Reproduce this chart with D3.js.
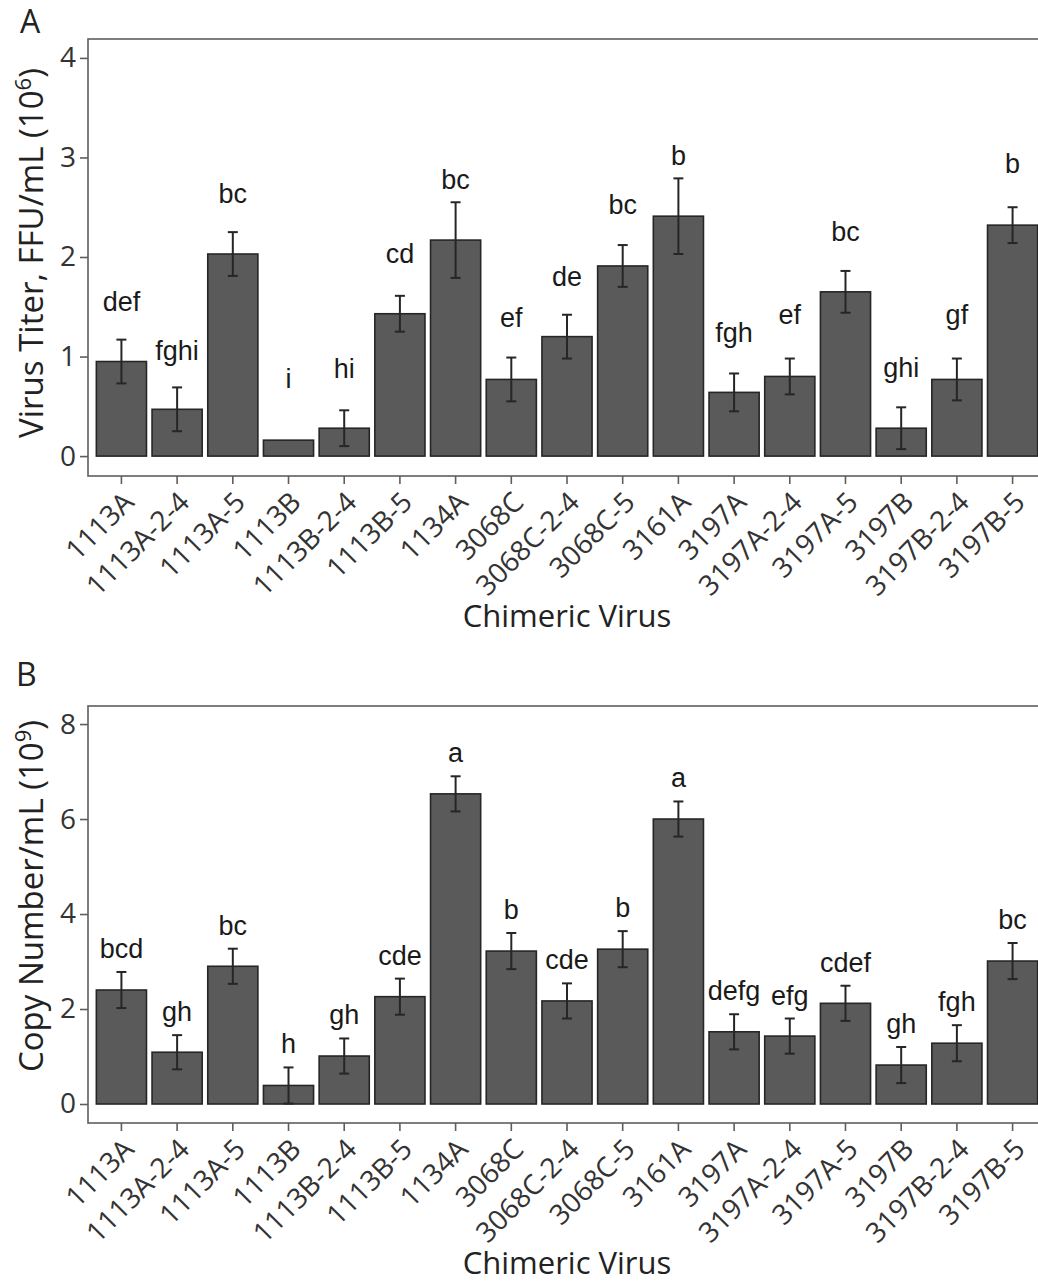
<!DOCTYPE html>
<html>
<head>
<meta charset="utf-8">
<script src="https://cdn.jsdelivr.net/npm/d3@7"></script>
<style>
  body { margin: 0; background: #fff; }
</style>
</head>
<body>
<svg id="chart" width="1038" height="1283"></svg>
<script>
// chimeric virus names (x categories, same for both panels)
var viruses = ["1113A", "1113A-2-4", "1113A-5", "1113B", "1113B-2-4", "1113B-5", "1134A",
    "3068C", "3068C-2-4", "3068C-5", "3161A", "3197A", "3197A-2-4", "3197A-5",
    "3197B", "3197B-2-4", "3197B-5"];

// panel A: virus titer, FFU/mL (10^6)
var titerMean = [0.95, 0.47, 2.03, 0.16, 0.28, 1.43, 2.17, 0.77, 1.20, 1.91, 2.41,
    0.64, 0.80, 1.65, 0.28, 0.77, 2.32];
var titerErr = [0.22, 0.22, 0.22, 0, 0.18, 0.18, 0.38, 0.22, 0.22, 0.21, 0.38,
    0.19, 0.18, 0.21, 0.21, 0.21, 0.18];
var titerLetters = ["def", "fghi", "bc", "i", "hi", "cd", "bc", "ef", "de", "bc", "b",
    "fgh", "ef", "bc", "ghi", "gf", "b"];
var titerLetterAt = [1.46, 0.97, 2.54, 0.68, 0.78, 1.94, 2.68, 1.30, 1.71, 2.43, 2.92,
    1.15, 1.33, 2.16, 0.79, 1.33, 2.84];

// panel B: copy number/mL (10^9)
var copyMean = [2.40, 1.09, 2.90, 0.39, 1.01, 2.26, 6.53, 3.22, 2.17, 3.26, 6.00,
    1.52, 1.43, 2.12, 0.82, 1.28, 3.01];
var copyErr = [0.38, 0.36, 0.37, 0.38, 0.37, 0.38, 0.37, 0.38, 0.37, 0.38, 0.37,
    0.37, 0.37, 0.37, 0.38, 0.38, 0.38];
var copyLetters = ["bcd", "gh", "bc", "h", "gh", "cde", "a", "b", "cde", "b", "a",
    "defg", "efg", "cdef", "gh", "fgh", "bc"];

var titerTicks = [0, 1, 2, 3, 4];
var copyTicks = [0, 2, 4, 6, 8];

var svg = d3.select("#chart");
var axisFont = "'Open Sans', 'Noto Sans', sans-serif";
var labelFont = "'Liberation Sans', Arial, sans-serif";

var x = d3.scaleBand()
    .domain(viruses)
    .range([88, 1046])
    .paddingInner(0.1)
    .paddingOuter(0.15);

function drawPanel(p) {
    var g = svg.append("g");
    var y = d3.scaleLinear().domain(p.domain).range([p.bottom, p.top]);
    var rows = viruses.map(function (v, i) {
        return {name: v, mean: p.mean[i], err: p.err[i], letter: p.letters[i], at: p.letterAt ? p.letterAt[i] : null};
    });

    // panel border
    g.append("rect")
        .attr("x", x.range()[0]).attr("y", p.top)
        .attr("width", x.range()[1] - x.range()[0]).attr("height", p.bottom - p.top)
        .attr("fill", "none").attr("stroke", "#5e5e5e").attr("stroke-width", 1.6);

    g.append("g").selectAll("rect")
        .data(rows).enter().append("rect")
        .attr("x", function (d) { return x(d.name); })
        .attr("width", x.bandwidth())
        .attr("y", function (d) { return y(d.mean); })
        .attr("height", function (d) { return y(0) - y(d.mean); })
        .attr("fill", "#5a5a5a")
        .attr("stroke", "#262626")
        .attr("stroke-width", 1.6);

    // error bars
    var eb = g.append("g").selectAll("g")
        .data(rows.filter(function (d) { return d.err > 0; }))
        .enter().append("g")
        .attr("stroke", "#262626").attr("stroke-width", 2);
    eb.append("line")
        .attr("x1", function (d) { return x(d.name) + x.bandwidth() / 2; })
        .attr("x2", function (d) { return x(d.name) + x.bandwidth() / 2; })
        .attr("y1", function (d) { return y(d.mean - d.err); })
        .attr("y2", function (d) { return y(d.mean + d.err); });
    [-1, 1].forEach(function (s) {
        eb.append("line")
            .attr("x1", function (d) { return x(d.name) + x.bandwidth() / 2 - 5; })
            .attr("x2", function (d) { return x(d.name) + x.bandwidth() / 2 + 5; })
            .attr("y1", function (d) { return y(d.mean + s * d.err); })
            .attr("y2", function (d) { return y(d.mean + s * d.err); });
    });

    // significance letters
    g.append("g").selectAll("text")
        .data(rows).enter().append("text")
        .attr("x", function (d) { return x(d.name) + x.bandwidth() / 2; })
        .attr("y", function (d) {
            return d.at !== null ? y(d.at) : y(d.mean + d.err) - 14;
        })
        .attr("text-anchor", "middle")
        .attr("font-family", labelFont)
        .attr("font-size", 27)
        .attr("fill", "#1a1a1a")
        .text(function (d) { return d.letter; });

    // y axis
    var yAxis = g.append("g")
        .attr("transform", "translate(" + x.range()[0] + ",0)")
        .call(d3.axisLeft(y).tickValues(p.ticks).tickSize(8).tickPadding(4).tickFormat(d3.format("d")));
    yAxis.select(".domain").remove();
    yAxis.selectAll("line").attr("stroke", "#5e5e5e").attr("stroke-width", 1.6);
    yAxis.selectAll("text")
        .attr("font-family", axisFont).attr("font-size", 28).attr("fill", "#333");

    // x axis
    var xAxis = g.append("g")
        .attr("transform", "translate(0," + p.bottom + ")")
        .call(d3.axisBottom(x).tickSize(8).tickPadding(0));
    xAxis.select(".domain").remove();
    xAxis.selectAll("line").attr("stroke", "#5e5e5e").attr("stroke-width", 1.6);
    xAxis.selectAll("text")
        .attr("font-family", axisFont).attr("font-size", 28).attr("fill", "#333")
        .attr("text-anchor", "end")
        .attr("dy", null)
        .attr("y", 0)
        .attr("transform", "translate(14,28) rotate(-45)");

    // axis titles
    g.append("text")
        .attr("x", (x.range()[0] + x.range()[1]) / 2)
        .attr("y", p.bottom + 151)
        .attr("text-anchor", "middle")
        .attr("font-family", axisFont).attr("font-size", 31).attr("fill", "#222")
        .text("Chimeric Virus");

    var yt = g.append("text")
        .attr("transform", "translate(43," + p.titleMid + ") rotate(-90)")
        .attr("text-anchor", "middle")
        .attr("font-family", axisFont).attr("font-size", 33).attr("fill", "#222");
    yt.append("tspan").text(p.yTitle + " (10");
    yt.append("tspan").attr("dy", -12).attr("font-size", 22).text(p.exp);
    yt.append("tspan").attr("dy", 12).text(")");

    svg.append("text")
        .attr("x", p.tagX).attr("y", p.tagY)
        .attr("font-family", axisFont).attr("font-size", 32).attr("fill", "#222")
        .text(p.tag);
}

drawPanel({
    tag: "A", tagX: 20, tagY: 33,
    top: 39, bottom: 476, domain: [-0.2, 4.19], titleMid: 253,
    mean: titerMean, err: titerErr, letters: titerLetters, letterAt: titerLetterAt,
    ticks: titerTicks, yTitle: "Virus Titer, FFU/mL", exp: "6"
});

drawPanel({
    tag: "B", tagX: 16, tagY: 686,
    top: 706, bottom: 1123, domain: [-0.4, 8.38], titleMid: 896,
    mean: copyMean, err: copyErr, letters: copyLetters, letterAt: null,
    ticks: copyTicks, yTitle: "Copy Number/mL", exp: "9"
});
</script>
</body>
</html>
